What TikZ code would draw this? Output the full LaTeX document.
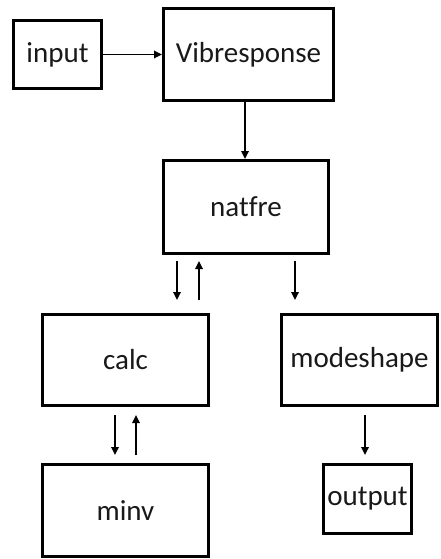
\documentclass[tikz,border=0pt]{standalone}
\usepackage{fontspec}
\setmainfont{Carlito}[Ligatures={NoCommon,NoRequired,NoContextual}]
\usetikzlibrary{arrows.meta}
\begin{document}
\begin{tikzpicture}[x=1pt,y=-1pt,
  box/.style={draw, line width=3pt, inner sep=0pt, font=\fontsize{29}{32}\selectfont, text=black!90},
  arr/.style={line width=1.7pt, -{Triangle[length=8pt,width=7.5pt]}}]
\useasboundingbox[fill=white] (0,0) rectangle (440,559);
\node[box, minimum width=88, minimum height=68] (input) at (57.5,54.5) {input};
\node[box, minimum width=170, minimum height=92] (vib) at (248.5,54.5) {Vibresponse};
\node[box, minimum width=165, minimum height=93] (natfre) at (246,207) {natfre};
\node[box, minimum width=166, minimum height=91] (calc) at (125.5,360) {calc};
\node[box, minimum width=156, minimum height=91] (mode) at (359.5,360) {modeshape};
\node[box, minimum width=166, minimum height=92] (minv) at (125.5,510.5) {minv};
\node[box, minimum width=88, minimum height=69] (output) at (367.5,499) {output};
\coordinate (a) at (245,0);
\coordinate (b1) at (177,0);
\coordinate (b2) at (199,0);
\coordinate (b3) at (295,0);
\coordinate (c1) at (115,0);
\coordinate (c2) at (136,0);
\coordinate (c3) at (365,0);
\draw[arr] (input.east) -- (input.east -| vib.west);
\draw[arr] (vib.south -| a) -- (natfre.north -| a);
\draw[arr, shorten <=6pt, shorten >=13pt] (natfre.south -| b1) -- (calc.north -| b1);
\draw[arr, shorten <=13pt, shorten >=6pt] (calc.north -| b2) -- (natfre.south -| b2);
\draw[arr, shorten <=6pt, shorten >=13pt] (natfre.south -| b3) -- (mode.north -| b3);
\draw[arr, shorten <=8pt, shorten >=8pt] (calc.south -| c1) -- (minv.north -| c1);
\draw[arr, shorten <=8pt, shorten >=8pt] (minv.north -| c2) -- (calc.south -| c2);
\draw[arr, shorten <=8pt, shorten >=8pt] (mode.south -| c3) -- (output.north -| c3);
\end{tikzpicture}
\end{document}
